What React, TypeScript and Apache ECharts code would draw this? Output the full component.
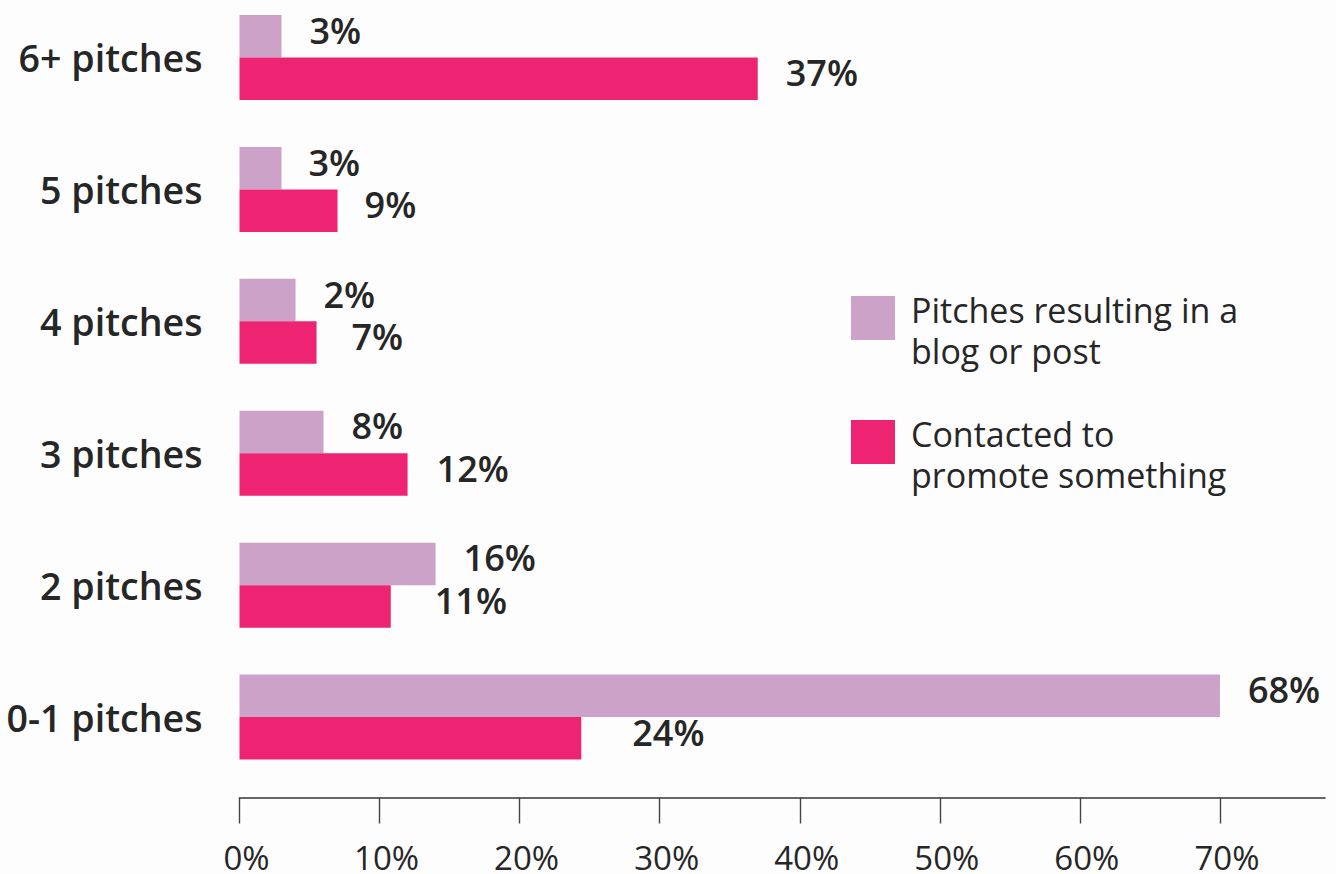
import React, { useEffect, useRef } from "react";
import * as echarts from "echarts";

const categories = ["6+ pitches", "5 pitches", "4 pitches", "3 pitches", "2 pitches", "0-1 pitches"];
const blogValues = [3, 3, 4, 6, 14, 70];
const blogLabels = ["3%", "3%", "2%", "8%", "16%", "68%"];
const promoteValues = [37, 7, 5.5, 12, 10.8, 24.4];
const promoteLabels = ["37%", "9%", "7%", "12%", "11%", "24%"];
const tickValues = [0, 10, 20, 30, 40, 50, 60, 70];
const seriesNames = ["Pitches resulting in a\nblog or post", "Contacted to\npromote something"];

// label horizontal nudges (style only)
const blogNudge = [0, -1, 0, 0, 0, 0];
const promoteNudge = [0, -1, 7, 1, 16, 23];

const FONT = "'Open Sans', sans-serif";
const TEXT = "#262626";
const PURPLE = "#cca2c9";
const PINK = "#ee2473";

// the chart div is shifted up so the first category band can start above the page
const SHIFT = 20;
// legend swatch: a 44x44 square at the top of a 44x68 symbol box
const SWATCH = "path://M0,0L44,0L44,44L0,44Z M0,68L0,68Z";

function makeData(values: number[], nudges: number[]) {
  return values.map((v, i) => ({
    value: v,
    label: { offset: [nudges[i], -6] },
  }));
}

export default function App() {
  const ref = useRef<HTMLDivElement>(null);
  useEffect(() => {
    if (!ref.current) return;
    const chart = echarts.init(ref.current, null, { renderer: "svg" });
    const labelBase = {
      show: true,
      position: "right",
      distance: 28,
      fontFamily: FONT,
      fontSize: 36,
      fontWeight: 600,
      color: TEXT,
    };
    chart.setOption({
      animation: false,
      backgroundColor: "#fdfdfd",
      grid: { left: 239.5, right: 11, top: -8.5 + SHIFT, bottom: 90.5 },
      legend: {
        orient: "vertical",
        left: 851,
        top: 289 + SHIFT,
        padding: 0,
        itemWidth: 44,
        itemHeight: 68,
        itemGap: 42,
        icon: SWATCH,
        data: seriesNames,
        textStyle: {
          fontFamily: FONT,
          fontSize: 34,
          lineHeight: 41,
          color: TEXT,
          padding: [0, 0, 0, 11],
        },
      },
      xAxis: {
        type: "value",
        min: 0,
        max: 77.5,
        offset: 14.5,
        splitLine: { show: false },
        axisLine: { show: true, lineStyle: { color: "#333", width: 1.6 } },
        axisTick: {
          show: true,
          length: 26,
          customValues: tickValues,
          lineStyle: { color: "#444", width: 1.4 },
        },
        axisLabel: {
          customValues: tickValues,
          formatter: "{value}%",
          fontFamily: FONT,
          fontSize: 33,
          lineHeight: 28,
          color: TEXT,
          margin: 46,
          padding: [0, 0, 0, 14],
        },
      },
      yAxis: {
        type: "category",
        inverse: true,
        data: categories,
        axisLine: { show: false },
        axisTick: { show: false },
        axisLabel: {
          fontFamily: FONT,
          fontSize: 37.6,
          fontWeight: 600,
          color: TEXT,
          margin: 37,
        },
      },
      series: [
        {
          name: seriesNames[0],
          type: "bar",
          barWidth: 42.5,
          barGap: "0%",
          itemStyle: { color: PURPLE },
          data: makeData(blogValues, blogNudge),
          label: { ...labelBase, formatter: (p: any) => blogLabels[p.dataIndex] },
        },
        {
          name: seriesNames[1],
          type: "bar",
          barWidth: 42.5,
          barGap: "0%",
          itemStyle: { color: PINK },
          data: makeData(promoteValues, promoteNudge),
          label: { ...labelBase, formatter: (p: any) => promoteLabels[p.dataIndex] },
        },
      ],
    });
    return () => chart.dispose();
  }, []);
  return (
    <div
      ref={ref}
      style={{ position: "absolute", left: 0, top: -SHIFT, width: 1336, height: 874 + SHIFT }}
    />
  );
}
